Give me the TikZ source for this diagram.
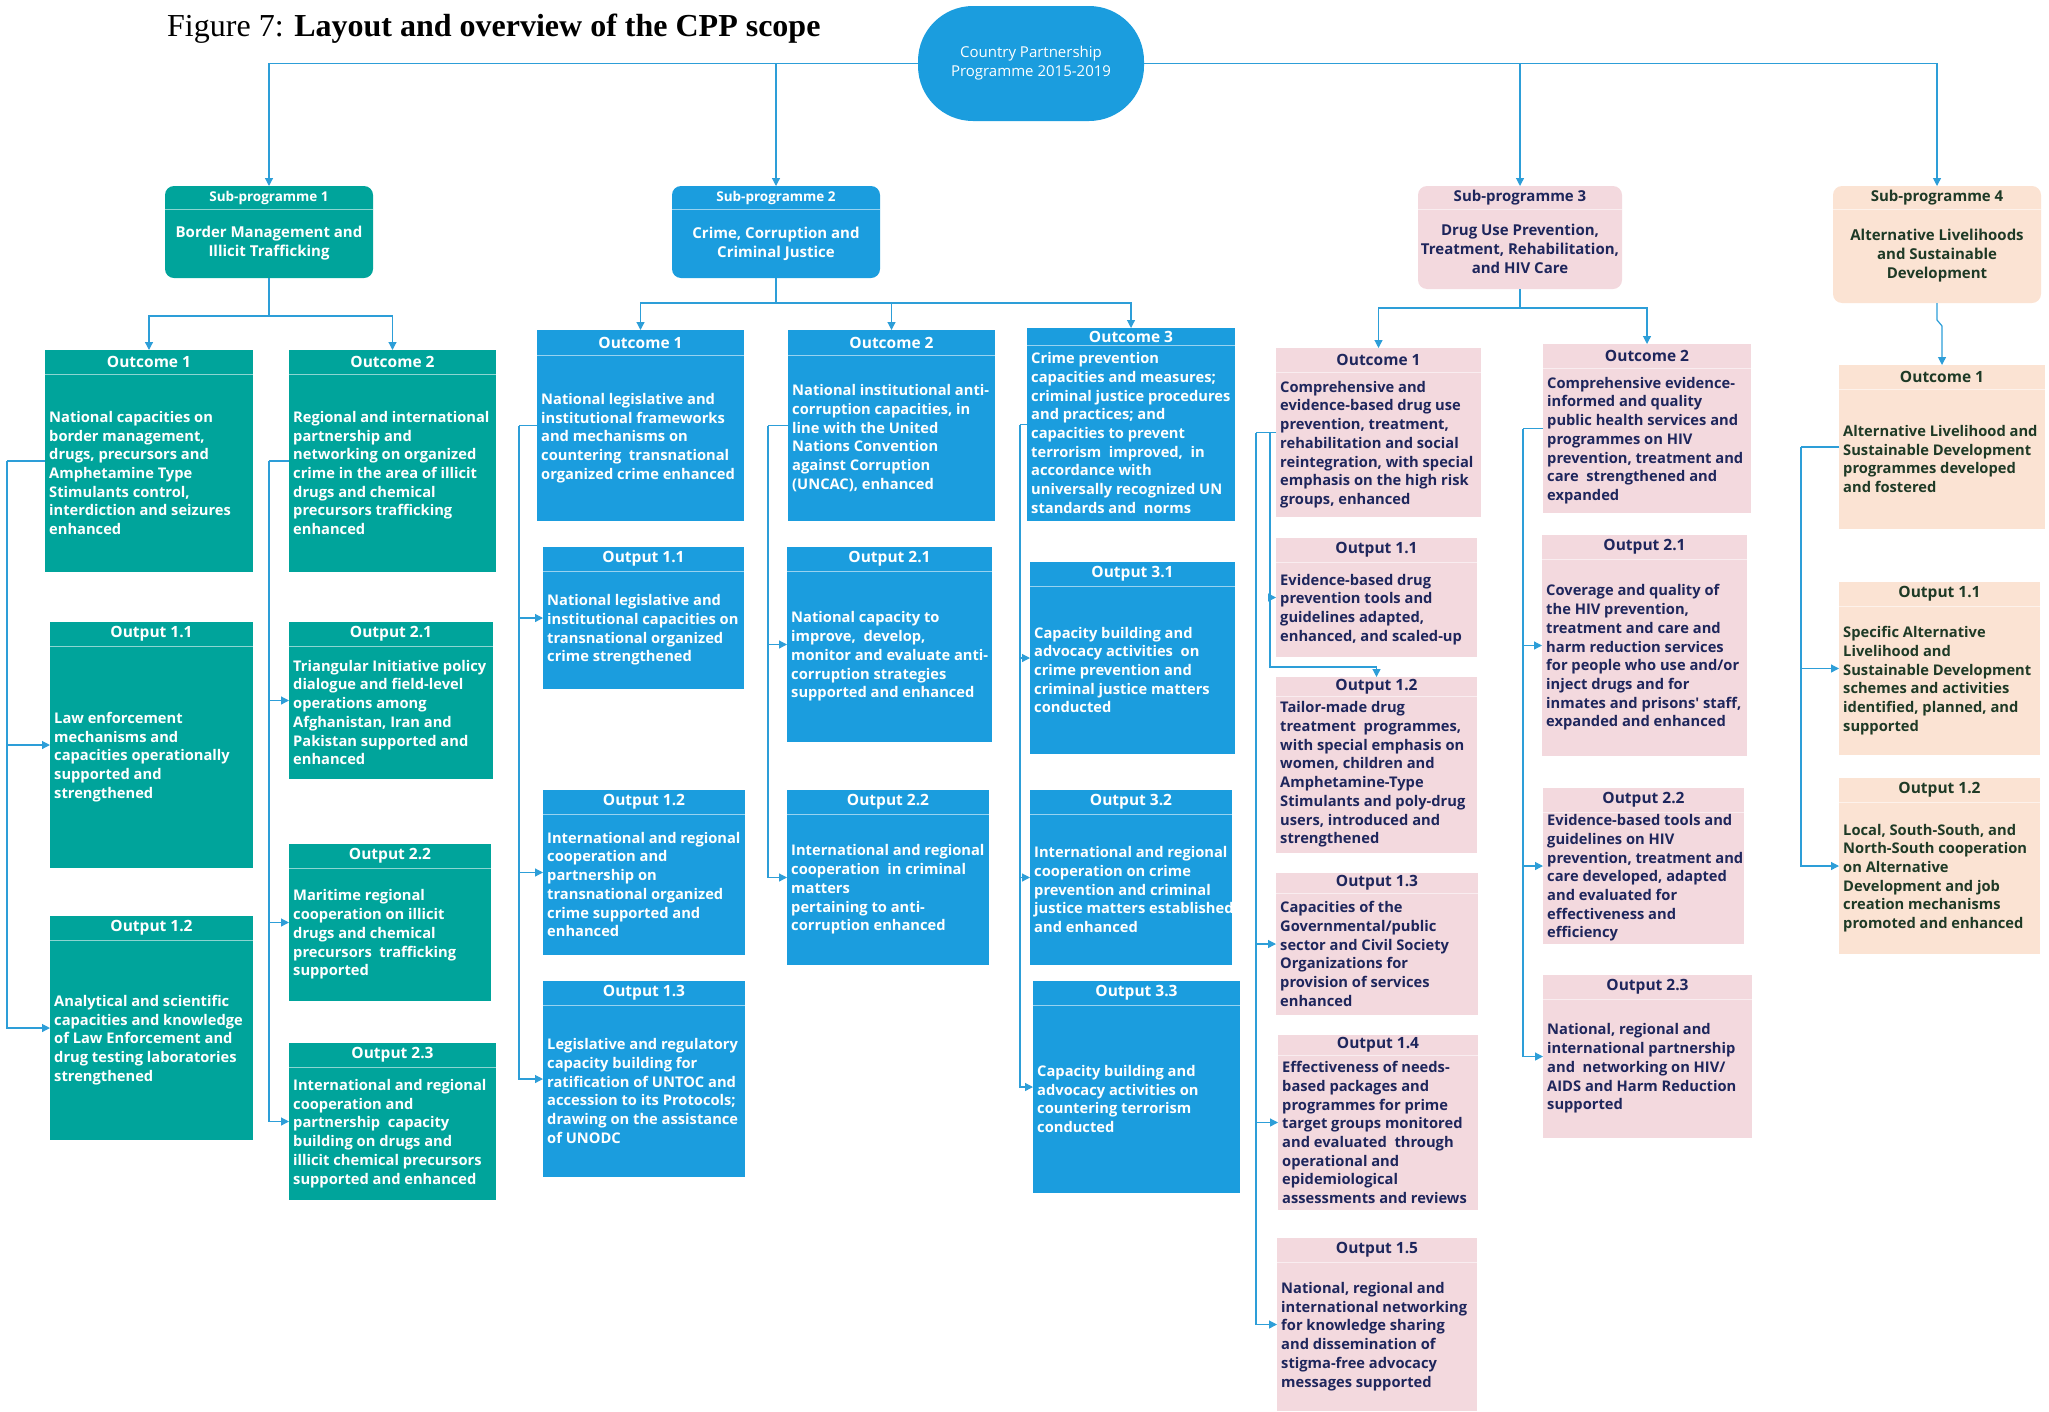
\documentclass[tikz,border=0pt]{standalone}
\usepackage{fontspec}
\setmainfont{Liberation Serif}
\newfontfamily\boxfont{Open Sans}
\usetikzlibrary{arrows.meta}

\definecolor{cTeal}{RGB}{0,164,155}
\definecolor{cBlue}{RGB}{27,157,222}
\definecolor{cPink}{RGB}{243,217,222}
\definecolor{cPeach}{RGB}{251,227,211}
\definecolor{cNavy}{RGB}{30,38,92}
\definecolor{cGreen}{RGB}{30,58,38}
\definecolor{cLine}{RGB}{45,158,216}

\tikzset{
  teal/.style={fill=cTeal, draw=none},   teal text/.style={text=white},
  blue/.style={fill=cBlue, draw=none},   blue text/.style={text=white},
  pink/.style={fill=cPink, draw=none},   pink text/.style={text=cNavy},
  peach/.style={fill=cPeach, draw=none}, peach text/.style={text=cGreen},
  divider/.style={draw=white, draw opacity=0.55, line width=0.8pt},
  head/.style={font=\boxfont\bfseries\fontsize{15.5}{18}\selectfont, inner sep=0pt},
  body/.style={font=\boxfont\bfseries\fontsize{14.7}{18.7}\selectfont, align=left,
    anchor=west, inner sep=0pt},
  sptitle/.style={font=\boxfont\bfseries\fontsize{15}{19}\selectfont, align=center,
    inner sep=0pt},
  ln/.style={draw=cLine, line width=1.2pt},
  arr/.style={ln, -{Triangle[length=8pt,width=8pt]}},
}

%% box with header band: [header height] name, colour, x, y, w, h, header, text
\newcommand{\cppbox}[9][24]{%
  \node[#3, minimum width=#6pt, minimum height=#7pt, anchor=north west,
    inner sep=0pt, outer sep=0pt] (#2) at (#4,#5) {};
  \draw[divider] ([yshift=-#1pt]#2.north west) -- ([yshift=-#1pt]#2.north east);
  \node[head, #3 text] (#2-h) at ([yshift={-0.5*#1}]#2.north) {#8};
  \node[body, #3 text] (#2-b) at ([xshift=4pt, yshift={-0.5*#1}]#2.west) {#9};
}

%% sub-programme box: [header size] name, colour, x, y, w, h, header, title
\newcommand{\spbox}[9][13.5]{%
  \node[#3, rounded corners=9pt, minimum width=#6pt, minimum height=#7pt,
    anchor=north west, inner sep=0pt, outer sep=0pt] (#2) at (#4,#5) {};
  \draw[divider] ([yshift=-23pt]#2.north west) -- ([yshift=-23pt]#2.north east);
  \node[#3 text, inner sep=0pt, font=\boxfont\bfseries\fontsize{#1}{16}\selectfont]
    (#2-h) at ([yshift=-11.5pt]#2.north) {#8};
  \node[sptitle, #3 text] (#2-b) at ([yshift=-11.5pt]#2.center) {#9};
}

\begin{document}
\begin{tikzpicture}[x=1pt, y=-1pt]

%% Geometry: one unit per pixel of the page, y running downwards.
\useasboundingbox (0,0) rectangle (2049,1411);

\node[anchor=base west, font=\fontsize{32}{38}\selectfont, inner sep=0pt] (fig)
  at (167,36) {Figure 7: \textbf{Layout and overview of the CPP scope}};

%% ---------- programme and sub-programmes ----------
\node[fill=cBlue, rounded corners=55pt, minimum width=226pt, minimum height=115pt,
  inner sep=0pt, text=white, align=center, font=\boxfont\fontsize{15}{19}\selectfont]
  (cpp) at (1031,63.5) {Country Partnership\\Programme 2015-2019};

\spbox{sp1}{teal}{165}{186}{208}{92}{Sub-programme 1}{Border Management and\\Illicit Trafficking}
\spbox{sp2}{blue}{672}{186}{208}{92}{Sub-programme 2}{Crime, Corruption and\\Criminal Justice}
\spbox[15]{sp3}{pink}{1418}{186}{204}{103}{Sub-programme 3}{Drug Use Prevention,\\Treatment, Rehabilitation,\\and HIV Care}
\spbox[15]{sp4}{peach}{1833}{186}{208}{117}{Sub-programme 4}{Alternative Livelihoods\\and Sustainable\\Development}

\draw[arr] (cpp.west) -| (sp1.north);
\draw[arr] (cpp.west) -| (sp2.north);
\draw[arr] (cpp.east) -| (sp3.north);
\draw[arr] (cpp.east) -| (sp4.north);

%% ---------- sub-programme 1 ----------
\cppbox{s1o1}{teal}{45}{350}{208}{222}{Outcome 1}{National capacities on\\border management,\\drugs, precursors and\\Amphetamine Type\\Stimulants control,\\interdiction and seizures\\enhanced}
\cppbox{s1o2}{teal}{289}{350}{207}{222}{Outcome 2}{Regional and international\\partnership and\\networking on organized\\crime in the area of illicit\\drugs and chemical\\precursors trafficking\\enhanced}
\cppbox{s1p11}{teal}{50}{622}{203}{246}{Output 1.1}{Law enforcement\\mechanisms and\\capacities operationally\\supported and\\strengthened}
\cppbox{s1p12}{teal}{50}{916}{203}{224}{Output 1.2}{Analytical and scientific\\capacities and knowledge\\of Law Enforcement and\\drug testing laboratories\\strengthened}
\cppbox{s1p21}{teal}{289}{622}{204}{157}{Output 2.1}{Triangular Initiative policy\\dialogue and field-level\\operations among\\Afghanistan, Iran and\\Pakistan supported and\\enhanced}
\cppbox{s1p22}{teal}{289}{844}{202}{157}{Output 2.2}{Maritime regional\\cooperation on illicit\\drugs and chemical\\precursors\ \ trafficking\\supported}
\cppbox{s1p23}{teal}{289}{1043}{207}{157}{Output 2.3}{International and regional\\cooperation and\\partnership\ \ capacity\\building on drugs and\\illicit chemical precursors\\supported and enhanced}

\draw[ln] (sp1.south) -- ++(0,38) coordinate (b1);
\draw[arr] (b1) -| (s1o1.north);
\draw[arr] (b1) -| (s1o2.north);
\draw[ln] (s1o1.west) -- ++(-38,0) coordinate (k11);
\foreach \t in {s1p11,s1p12} \draw[arr] (k11) |- (\t.west);
\draw[ln] (s1o2.west) -- ++(-20,0) coordinate (k12);
\foreach \t in {s1p21,s1p22,s1p23} \draw[arr] (k12) |- (\t.west);

%% ---------- sub-programme 2 ----------
\cppbox[25]{s2o1}{blue}{537}{330}{207}{191}{Outcome 1}{National legislative and\\institutional frameworks\\and mechanisms on\\countering\ \ transnational\\organized crime enhanced}
\cppbox[25]{s2o2}{blue}{788}{330}{207}{191}{Outcome 2}{National institutional anti-\\corruption capacities, in\\line with the United\\Nations Convention\\against Corruption\\(UNCAC), enhanced}
\cppbox[17]{s2o3}{blue}{1027}{328}{208}{193}{Outcome 3}{Crime prevention\\capacities and measures;\\criminal justice procedures\\and practices; and\\capacities to prevent\\terrorism\ \ improved,\ \ in\\accordance with\\universally recognized UN\\standards and\ \ norms}
\cppbox{s2p11}{blue}{543}{547}{201}{142}{Output 1.1}{National legislative and\\institutional capacities on\\transnational organized\\crime strengthened}
\cppbox{s2p12}{blue}{543}{790}{202}{165}{Output 1.2}{International and regional\\cooperation and\\partnership on\\transnational organized\\crime supported and\\enhanced}
\cppbox{s2p13}{blue}{543}{981}{202}{196}{Output 1.3}{Legislative and regulatory\\capacity building for\\ratification of UNTOC and\\accession to its Protocols;\\drawing on the assistance\\of UNODC}
\cppbox{s2p21}{blue}{787}{547}{205}{195}{Output 2.1}{National capacity to\\improve,\ \ develop,\\monitor and evaluate anti-\\corruption strategies\\supported and enhanced}
\cppbox{s2p22}{blue}{787}{790}{202}{175}{Output 2.2}{International and regional\\cooperation\ \ in criminal\\matters\\pertaining to anti-\\corruption enhanced}
\cppbox{s2p31}{blue}{1030}{562}{205}{192}{Output 3.1}{Capacity building and\\advocacy activities\ \ on\\crime prevention and\\criminal justice matters\\conducted}
\cppbox{s2p32}{blue}{1030}{790}{202}{175}{Output 3.2}{International and regional\\cooperation on crime\\prevention and criminal\\justice matters established\\and enhanced}
\cppbox{s2p33}{blue}{1033}{981}{207}{212}{Output 3.3}{Capacity building and\\advocacy activities on\\countering terrorism\\conducted}

\draw[ln] (sp2.south) -- ++(0,25) coordinate (b2);
\draw[arr] (b2) -| (s2o1.north);
\draw[arr] (b2) -| (s2o2.north);
\draw[arr] (b2) -| (s2o3.north);
\draw[ln] (s2o1.west) -- ++(-18,0) coordinate (k21);
\foreach \t in {s2p11,s2p12,s2p13} \draw[arr] (k21) |- (\t.west);
\draw[ln] (s2o2.west) -- ++(-20,0) coordinate (k22);
\foreach \t in {s2p21,s2p22} \draw[arr] (k22) |- (\t.west);
\draw[ln] (s2o3.west) -- ++(-7,0) coordinate (k23);
\foreach \t in {s2p31,s2p32,s2p33} \draw[arr] (k23) |- (\t.west);

%% ---------- sub-programme 3 ----------
\cppbox{s3o1}{pink}{1276}{348}{205}{169}{Outcome 1}{Comprehensive and\\evidence-based drug use\\prevention, treatment,\\rehabilitation and social\\reintegration, with special\\emphasis on the high risk\\groups, enhanced}
\cppbox{s3o2}{pink}{1543}{344}{208}{169}{Outcome 2}{Comprehensive evidence-\\informed and quality\\public health services and\\programmes on HIV\\prevention, treatment and\\care\ \ strengthened and\\expanded}
\cppbox{s3p11}{pink}{1276}{538}{201}{119}{Output 1.1}{Evidence-based drug\\prevention tools and\\guidelines adapted,\\enhanced, and scaled-up}
\cppbox[19]{s3p12}{pink}{1276}{677}{201}{176}{Output 1.2}{Tailor-made drug\\treatment\ \ programmes,\\with special emphasis on\\women, children and\\Amphetamine-Type\\Stimulants and poly-drug\\users, introduced and\\strengthened}
\cppbox[20]{s3p13}{pink}{1276}{873}{202}{142}{Output 1.3}{Capacities of the\\Governmental/public\\sector and Civil Society\\Organizations for\\provision of services\\enhanced}
\cppbox[20]{s3p14}{pink}{1278}{1035}{200}{175}{Output 1.4}{Effectiveness of needs-\\based packages and\\programmes for prime\\target groups monitored\\and evaluated\ \ through\\operational and\\epidemiological\\assessments and reviews}
\cppbox{s3p15}{pink}{1277}{1238}{200}{173}{Output 1.5}{National, regional and\\international networking\\for knowledge sharing\\and dissemination of\\stigma-free advocacy\\messages supported}
\cppbox{s3p21}{pink}{1542}{535}{205}{221}{Output 2.1}{Coverage and quality of\\the HIV prevention,\\treatment and care and\\harm reduction services\\for people who use and/or\\inject drugs and for\\inmates and prisons' staff,\\expanded and enhanced}
\cppbox{s3p22}{pink}{1543}{788}{201}{156}{Output 2.2}{Evidence-based tools and\\guidelines on HIV\\prevention, treatment and\\care developed, adapted\\and evaluated for\\effectiveness and\\efficiency}
\cppbox{s3p23}{pink}{1543}{975}{209}{163}{Output 2.3}{National, regional and\\international partnership\\and\ \ networking on HIV/\\AIDS and Harm Reduction\\supported}

\draw[ln] (sp3.south) -- ++(0,19) coordinate (b3);
\draw[arr] (b3) -| (s3o1.north);
\draw[arr] (b3) -| (s3o2.north);
\draw[ln] (s3o1.west) -- ++(-20,0) coordinate (k31);
\foreach \t in {s3p13,s3p14,s3p15} \draw[arr] (k31) |- (\t.west);
\coordinate (k31i) at ([xshift=-6pt]s3o1.west);
\draw[arr] (k31i) |- (s3p11.west);
\draw[arr] (k31i) |- ([yshift=10pt]s3p12.north) -- (s3p12.north);
\draw[ln] (s3o2.west) -- ++(-20,0) coordinate (k32);
\foreach \t in {s3p21,s3p22,s3p23} \draw[arr] (k32) |- (\t.west);

%% ---------- sub-programme 4 ----------
\cppbox{s4o1}{peach}{1839}{365}{206}{164}{Outcome 1}{Alternative Livelihood and\\Sustainable Development\\programmes developed\\and fostered}
\cppbox{s4p11}{peach}{1839}{582}{201}{173}{Output 1.1}{Specific Alternative\\Livelihood and\\Sustainable Development\\schemes and activities\\identified, planned, and\\supported}
\cppbox{s4p12}{peach}{1839}{778}{201}{176}{Output 1.2}{Local, South-South, and\\North-South cooperation\\on Alternative\\Development and job\\creation mechanisms\\promoted and enhanced}

\draw[arr] (sp4.south) -- ++(0,17) -- ++(5,6) -- (s4o1.north);
\draw[ln] (s4o1.west) -- ++(-38,0) coordinate (k41);
\foreach \t in {s4p11,s4p12} \draw[arr] (k41) |- (\t.west);

\end{tikzpicture}
\end{document}
